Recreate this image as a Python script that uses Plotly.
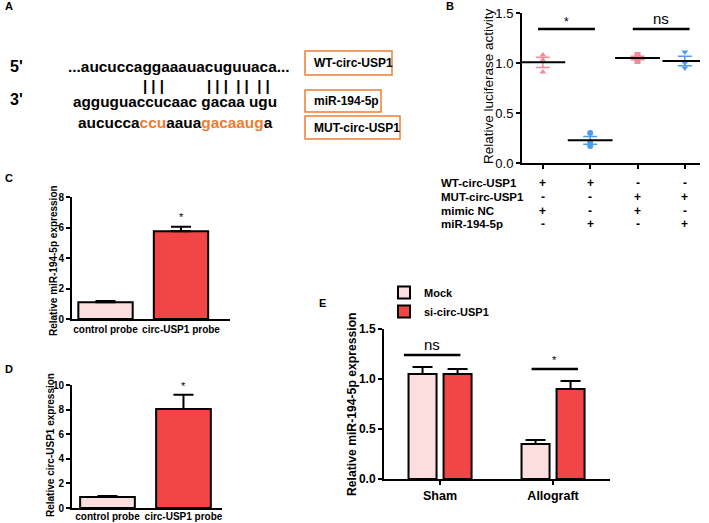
import numpy as np
import plotly.graph_objects as go

W, H = 709, 523

# ---- panel B: luciferase reporter ----
b_groups = [0, 1, 2, 3]
b_points = [[1.08, 1.03, 0.91], [0.30, 0.21, 0.17], [1.08, 1.05, 1.02], [1.11, 1.00, 0.95]]
b_colors = ["#F28B95", "#4C9BF0", "#F28B95", "#4C9BF0"]
b_symbols = ["triangle-up", "circle", "square", "triangle-down"]
b_rows = ["WT-circ-USP1", "MUT-circ-USP1", "mimic NC", "miR-194-5p"]
b_table = [["+", "+", "-", "-"],
           ["-", "-", "+", "+"],
           ["+", "-", "+", "-"],
           ["-", "+", "-", "+"]]
b_sig = [(0, 1, "*"), (2, 3, "ns")]

# ---- panel C: miR-194-5p pulled down ----
c_cats = ["control probe", "circ-USP1 probe"]
c_vals = [1.1, 5.75]
c_err = [0.08, 0.3]

# ---- panel D: circ-USP1 pulled down ----
d_cats = ["control probe", "circ-USP1 probe"]
d_vals = [0.9, 8.05]
d_err = [0.08, 1.15]

# ---- panel E: sham vs allograft ----
e_groups = ["Sham", "Allograft"]
e_mock = [1.05, 0.35]
e_mock_err = [0.07, 0.04]
e_si = [1.05, 0.90]
e_si_err = [0.05, 0.08]

PINK = "#FCDEDE"
RED = "#F24646"
ORANGE = "#ED7D31"


def px(x):
    return x / W


def py(y):
    return 1 - y / H


fig = go.Figure()

# B: dots, mean line, sem
for g, pts, col, sym in zip(b_groups, b_points, b_colors, b_symbols):
    pts = np.array(pts)
    mean = pts.mean()
    sem = pts.std(ddof=1) / np.sqrt(len(pts))
    fig.add_trace(go.Scatter(x=[g] * len(pts), y=pts, mode="markers",
                             marker=dict(color=col, symbol=sym, size=6),
                             xaxis="x", yaxis="y", showlegend=False))
    fig.add_trace(go.Scatter(x=[g], y=[mean], mode="markers",
                             marker=dict(symbol="line-ew", size=32,
                                         line=dict(color="black", width=2)),
                             error_y=dict(type="data", array=[sem], color=col,
                                          thickness=1.5, width=7),
                             xaxis="x", yaxis="y", showlegend=False))

bar_line = dict(color="black", width=2)


def up_err(vals):
    return dict(type="data", array=vals, arrayminus=[0] * len(vals),
                symmetric=False, color="black", thickness=2, width=10)


# C
fig.add_trace(go.Bar(x=c_cats, y=c_vals, width=0.72,
                     marker=dict(color=[PINK, RED], line=bar_line),
                     error_y=up_err(c_err), xaxis="x2", yaxis="y2", showlegend=False))
# D
fig.add_trace(go.Bar(x=d_cats, y=d_vals, width=0.72,
                     marker=dict(color=[PINK, RED], line=bar_line),
                     error_y=up_err(d_err), xaxis="x3", yaxis="y3", showlegend=False))
# E
fig.add_trace(go.Bar(x=e_groups, y=e_mock, name="Mock",
                     marker=dict(color=PINK, line=bar_line),
                     error_y=up_err(e_mock_err), xaxis="x4", yaxis="y4"))
fig.add_trace(go.Bar(x=e_groups, y=e_si, name="si-circ-USP1",
                     marker=dict(color=RED, line=bar_line),
                     error_y=up_err(e_si_err), xaxis="x4", yaxis="y4"))

axis_common = dict(showline=True, linecolor="black", linewidth=2, ticks="outside",
                   tickcolor="black", tickwidth=2, ticklen=4, showgrid=False,
                   zeroline=False, automargin=False)
bold10 = dict(size=10, color="black", weight="bold")
bold12 = dict(size=12, color="black", weight="bold")
reg13 = dict(size=13, color="black")

fig.update_layout(
    width=W, height=H, margin=dict(l=0, r=0, t=0, b=0),
    plot_bgcolor="white", paper_bgcolor="white",
    font=dict(family="Arial, Liberation Sans", color="black"),
    barmode="group", bargap=0.38, bargroupgap=0.2,
    xaxis=dict(axis_common, domain=[px(522), px(700)], anchor="y",
               range=[-0.44, 3.32], tickvals=b_groups, showticklabels=False),
    yaxis=dict(axis_common, domain=[py(163), py(13)], anchor="x",
               range=[0, 1.5], dtick=0.5, tickformat=".1f", tickfont=reg13),
    xaxis2=dict(axis_common, domain=[px(72), px(230)], anchor="y2",
                range=[-0.444, 1.649], ticks="", tickfont=bold10, ticklabelstandoff=0),
    yaxis2=dict(axis_common, domain=[py(319), py(197)], anchor="x2",
                range=[0, 8], dtick=2, tickfont=bold10),
    xaxis3=dict(axis_common, domain=[px(72), px(222)], anchor="y3",
                range=[-0.467, 1.507], ticks="", tickfont=bold10, ticklabelstandoff=-2),
    yaxis3=dict(axis_common, domain=[py(508), py(385)], anchor="x3",
                range=[0, 10], dtick=2, tickfont=bold10),
    xaxis4=dict(axis_common, domain=[px(384), px(610)], anchor="y4",
                range=[-0.496, 1.504], tickfont=dict(bold12, size=12.5)),
    yaxis4=dict(axis_common, domain=[py(479), py(329)], anchor="x4",
                range=[0, 1.5], dtick=0.5, tickformat=".1f", tickfont=bold12),
    legend=dict(x=px(384), y=py(278), xanchor="left", yanchor="top",
                font=dict(size=11, color="black", weight="bold"),
                bgcolor="rgba(0,0,0,0)", tracegroupgap=0),
)

ann = []
shapes = []


def text(x, y, s, size=11, anchor="left", bold=True, color="black", **kw):
    ann.append(dict(x=x, y=y, xref=kw.pop("xref", "paper"), yref=kw.pop("yref", "paper"),
                    text=s, showarrow=False, xanchor=anchor, yanchor="middle",
                    font=dict(size=size, color=color, weight="bold" if bold else "normal"),
                    **kw))


# y axis titles
for (tx, ty, s, fs, b) in [(489, 86, "Relative luciferase activity", 13.5, False),
                           (53, 260, "Relative miR-194-5p expression", 10, True),
                           (50, 445, "Relative circ-USP1 expression", 10, True),
                           (352, 404, "Relative miR-194-5p expression", 12.2, True)]:
    text(px(tx), py(ty), s, size=fs, anchor="center", bold=b, textangle=-90)

# panel letters
for lab, (lx, ly) in {"A": (3, 6), "B": (444, 6), "C": (3, 178),
                      "D": (3, 369), "E": (317, 303)}.items():
    text(px(lx), py(ly), lab, size=11)

# panel A: sequence alignment
nb = "\u00a0"
text(px(8), py(67), "5'", size=16)
text(px(8), py(100), "3'", size=16)
text(px(66), py(67), "...aucuccaggaaauacuguuaca...", size=15.4)
text(px(141), py(85), nb.join("|||"), size=15)
text(px(205), py(85), nb.join("|||") + nb * 2 + nb.join("||") + nb * 2 + nb.join("||"), size=15)
text(px(71), py(101), "agguguaccucaac" + nb + "gacaa" + nb + "ugu", size=15.3)
o = f'<span style="color:{ORANGE}">'
text(px(76), py(122), f"aucucca{o}ccu</span>aaua{o}gacaaug</span>a", size=15.4)
for (x0, y0, x1, y1, lab) in [(305, 51, 392, 75, "WT-circ-USP1"),
                              (305, 90, 381, 112, "miR-194-5p"),
                              (305, 116, 400, 139, "MUT-circ-USP1")]:
    shapes.append(dict(type="rect", xref="paper", yref="paper",
                       x0=px(x0), x1=px(x1), y0=py(y1), y1=py(y0),
                       line=dict(color=ORANGE, width=1.5), fillcolor="white", layer="below"))
    text(px(x0 + 7), py((y0 + y1) / 2), lab, size=12)

# panel B: significance and table
for a, b, s in b_sig:
    shapes.append(dict(type="line", xref="x", yref="y", x0=a - 0.1, x1=b + 0.1,
                       y0=1.34, y1=1.34, line=dict(color="black", width=2.5)))
    text((a + b) / 2, 1.41 if s == "*" else 1.45, s, size=12 if s == "*" else 15,
         anchor="center", bold=False, xref="x", yref="y")
row_y = [183, 197, 211, 224]
for r, (lab, cells) in enumerate(zip(b_rows, b_table)):
    text(px(439), py(row_y[r]), lab, size=11.5)
    for c, s in enumerate(cells):
        text(b_groups[c], py(row_y[r]), s, size=12, anchor="center", xref="x")

# panel C / D stars
text(1, py(217), "*", size=11, anchor="center", bold=False, xref="x2")
text(1, py(386), "*", size=11, anchor="center", bold=False, xref="x3")

# panel E significance
for (x0, x1, yl, s, ys, fs) in [(-0.32, 0.18, 1.24, "ns", 1.35, 15),
                                (0.81, 1.22, 1.10, "*", 1.19, 11)]:
    shapes.append(dict(type="line", xref="x4", yref="y4", x0=x0, x1=x1,
                       y0=yl, y1=yl, line=dict(color="black", width=2.5)))
    text((x0 + x1) / 2, ys, s, size=fs, anchor="center", bold=False,
         xref="x4", yref="y4")

fig.update_layout(annotations=ann, shapes=shapes)
fig.write_html("out.html", config={"displayModeBar": False},
               post_script="document.body.style.margin='0';")
